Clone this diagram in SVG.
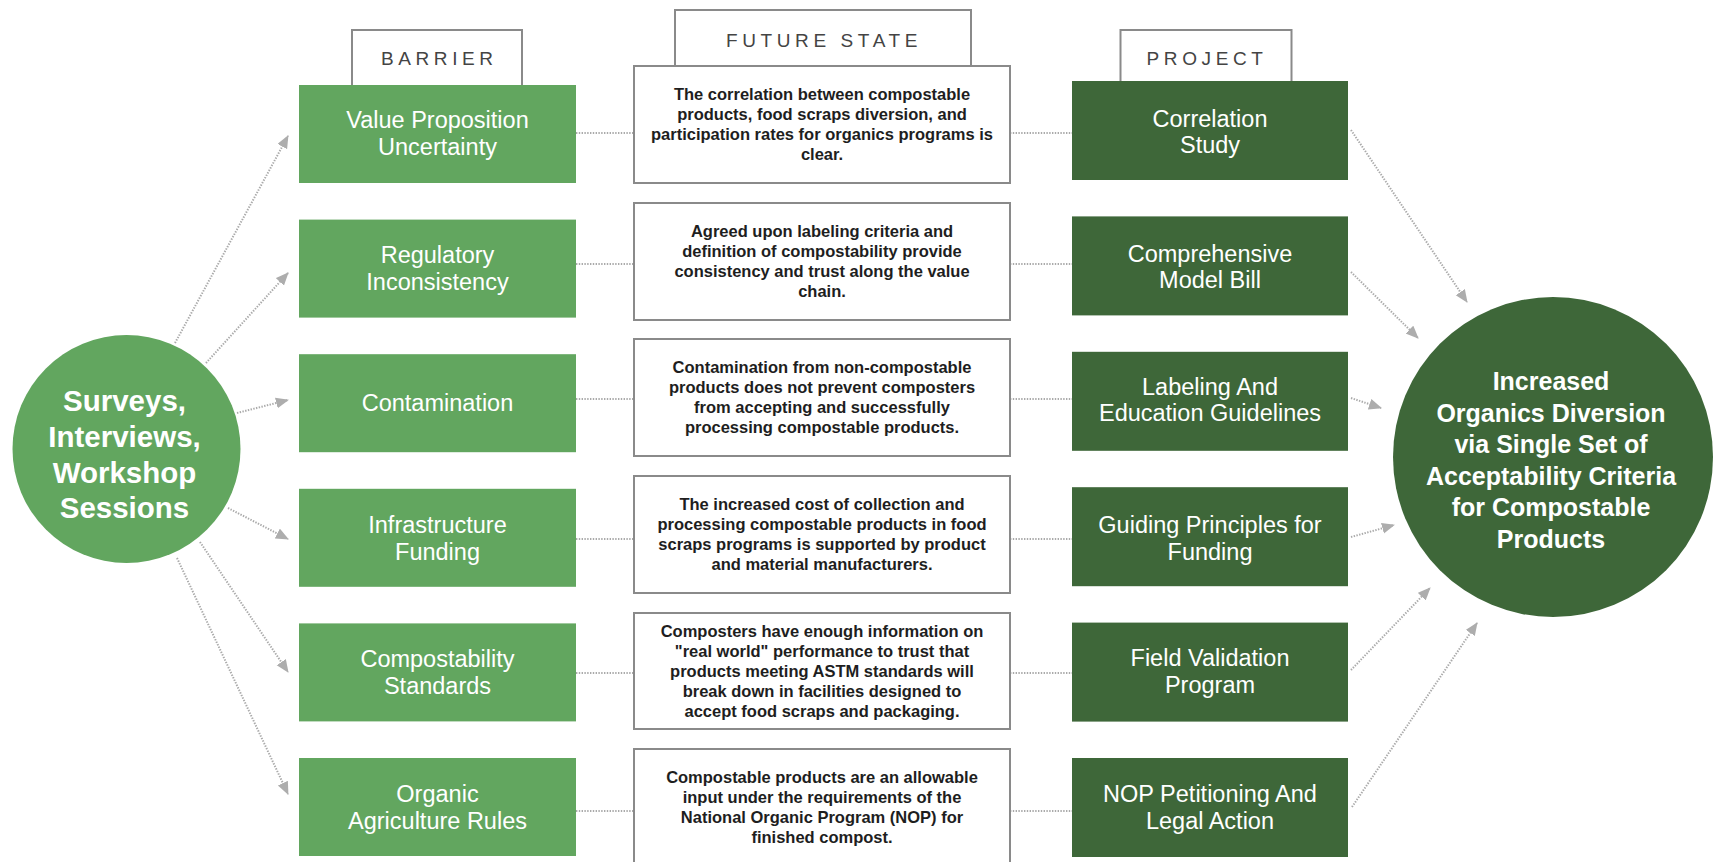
<svg xmlns="http://www.w3.org/2000/svg" width="1717" height="862" viewBox="0 0 1717 862">
<defs>
<marker id="ah" markerUnits="userSpaceOnUse" markerWidth="14" markerHeight="12" refX="12" refY="5.5" orient="auto">
<path d="M0,0 L13,5.5 L0,11 z" fill="#adadad"/>
</marker>
</defs>
<style>
.lbl{fill:#fff;stroke:#8a8a8a;stroke-width:2}
.lblt{font-family:"Liberation Sans",Arial,sans-serif;font-size:19px;letter-spacing:4.6px;fill:#444;text-anchor:middle}
.bar{fill:#62a65f}
.proj{fill:#3e6739}
.bt{font-family:"Liberation Sans",Arial,sans-serif;font-size:23.5px;fill:#fff;text-anchor:middle}
.fs{fill:#fff;stroke:#8a8a8a;stroke-width:2}
.ft{font-family:"Liberation Sans",Arial,sans-serif;font-size:16.5px;font-weight:bold;fill:#1e1e1e;text-anchor:middle}
.ct{font-family:"Liberation Sans",Arial,sans-serif;font-weight:bold;fill:#fff;text-anchor:middle}
.dot{stroke:#aaaaaa;stroke-width:2;stroke-dasharray:1.4 1.4;fill:none}
.arr{stroke:#aaaaaa;stroke-width:2;stroke-dasharray:1.4 1.4;fill:none;marker-end:url(#ah)}
</style>
<rect width="1717" height="862" fill="#fff"/>

<g id="connectors">
<line class="dot" x1="576" y1="133" x2="634" y2="133"/>
<line class="dot" x1="576" y1="264" x2="634" y2="264"/>
<line class="dot" x1="576" y1="399" x2="634" y2="399"/>
<line class="dot" x1="576" y1="539" x2="634" y2="539"/>
<line class="dot" x1="576" y1="673" x2="634" y2="673"/>
<line class="dot" x1="576" y1="811" x2="634" y2="811"/>
<line class="dot" x1="1010" y1="133" x2="1072" y2="133"/>
<line class="dot" x1="1010" y1="264" x2="1072" y2="264"/>
<line class="dot" x1="1010" y1="399" x2="1072" y2="399"/>
<line class="dot" x1="1010" y1="539" x2="1072" y2="539"/>
<line class="dot" x1="1010" y1="673" x2="1072" y2="673"/>
<line class="dot" x1="1010" y1="811" x2="1072" y2="811"/>
<line class="arr" x1="175" y1="343" x2="288" y2="136"/>
<line class="arr" x1="206" y1="363" x2="288" y2="273"/>
<line class="arr" x1="237" y1="413" x2="288" y2="400"/>
<line class="arr" x1="228" y1="508" x2="288" y2="539"/>
<line class="arr" x1="200" y1="542" x2="288" y2="672"/>
<line class="arr" x1="177" y1="558" x2="288" y2="794"/>
<line class="arr" x1="1351" y1="130" x2="1467" y2="302"/>
<line class="arr" x1="1351" y1="272" x2="1418" y2="338"/>
<line class="arr" x1="1351" y1="398" x2="1381" y2="408"/>
<line class="arr" x1="1351" y1="537" x2="1394" y2="525"/>
<line class="arr" x1="1351" y1="670" x2="1430" y2="588"/>
<line class="arr" x1="1352" y1="807" x2="1477" y2="623"/>
</g>

<g id="header-barrier">
<rect class="lbl" x="352" y="30" width="170" height="56"/>
<text class="lblt" x="439.3" y="65">BARRIER</text>
</g>
<g id="header-future">
<rect class="lbl" x="675" y="10" width="296" height="56"/>
<text class="lblt" x="824" y="47">FUTURE STATE</text>
</g>
<g id="header-project">
<rect class="lbl" x="1120.5" y="30" width="171" height="52"/>
<text class="lblt" x="1207" y="65">PROJECT</text>
</g>

<g id="source">
<circle cx="126.5" cy="449" r="114" fill="#62a65f"/>
<text class="ct" font-size="29.5" x="124.5" y="411">Surveys,</text>
<text class="ct" font-size="29.5" x="124.5" y="447">Interviews,</text>
<text class="ct" font-size="29.5" x="124.5" y="483">Workshop</text>
<text class="ct" font-size="29.5" x="124.5" y="518">Sessions</text>
</g>

<g id="barrier-1"><rect class="bar" x="299" y="85" width="277" height="98"/>
<text class="bt" x="437.5" y="128">Value Proposition</text><text class="bt" x="437.5" y="155">Uncertainty</text></g>
<g id="barrier-2"><rect class="bar" x="299" y="219.6" width="277" height="98"/>
<text class="bt" x="437.5" y="263">Regulatory</text><text class="bt" x="437.5" y="290">Inconsistency</text></g>
<g id="barrier-3"><rect class="bar" x="299" y="354.2" width="277" height="98"/>
<text class="bt" x="437.5" y="411">Contamination</text></g>
<g id="barrier-4"><rect class="bar" x="299" y="488.8" width="277" height="98"/>
<text class="bt" x="437.5" y="533">Infrastructure</text><text class="bt" x="437.5" y="560">Funding</text></g>
<g id="barrier-5"><rect class="bar" x="299" y="623.4" width="277" height="98"/>
<text class="bt" x="437.5" y="667">Compostability</text><text class="bt" x="437.5" y="694">Standards</text></g>
<g id="barrier-6"><rect class="bar" x="299" y="758" width="277" height="98"/>
<text class="bt" x="437.5" y="802">Organic</text><text class="bt" x="437.5" y="829">Agriculture Rules</text></g>

<g id="future-1"><rect class="fs" x="634" y="66" width="376" height="117"/>
<text class="ft" x="822" y="100">The correlation between compostable</text>
<text class="ft" x="822" y="120">products, food scraps diversion, and</text>
<text class="ft" x="822" y="140">participation rates for organics programs is</text>
<text class="ft" x="822" y="160">clear.</text></g>
<g id="future-2"><rect class="fs" x="634" y="203" width="376" height="117"/>
<text class="ft" x="822" y="237">Agreed upon labeling criteria and</text>
<text class="ft" x="822" y="257">definition of compostability provide</text>
<text class="ft" x="822" y="277">consistency and trust along the value</text>
<text class="ft" x="822" y="297">chain.</text></g>
<g id="future-3"><rect class="fs" x="634" y="339" width="376" height="117"/>
<text class="ft" x="822" y="373">Contamination from non-compostable</text>
<text class="ft" x="822" y="393">products does not prevent composters</text>
<text class="ft" x="822" y="413">from accepting and successfully</text>
<text class="ft" x="822" y="433">processing compostable products.</text></g>
<g id="future-4"><rect class="fs" x="634" y="476" width="376" height="117"/>
<text class="ft" x="822" y="510">The increased cost of collection and</text>
<text class="ft" x="822" y="530">processing compostable products in food</text>
<text class="ft" x="822" y="550">scraps programs is supported by product</text>
<text class="ft" x="822" y="570">and material manufacturers.</text></g>
<g id="future-5"><rect class="fs" x="634" y="613" width="376" height="116"/>
<text class="ft" x="822" y="637">Composters have enough information on</text>
<text class="ft" x="822" y="657">"real world" performance to trust that</text>
<text class="ft" x="822" y="677">products meeting ASTM standards will</text>
<text class="ft" x="822" y="697">break down in facilities designed to</text>
<text class="ft" x="822" y="717">accept food scraps and packaging.</text></g>
<g id="future-6"><rect class="fs" x="634" y="749" width="376" height="120"/>
<text class="ft" x="822" y="783">Compostable products are an allowable</text>
<text class="ft" x="822" y="803">input under the requirements of the</text>
<text class="ft" x="822" y="823">National Organic Program (NOP) for</text>
<text class="ft" x="822" y="843">finished compost.</text></g>

<g id="project-1"><rect class="proj" x="1072" y="81" width="276" height="99"/>
<text class="bt" x="1210" y="127">Correlation</text><text class="bt" x="1210" y="153">Study</text></g>
<g id="project-2"><rect class="proj" x="1072" y="216.4" width="276" height="99"/>
<text class="bt" x="1210" y="262">Comprehensive</text><text class="bt" x="1210" y="288">Model Bill</text></g>
<g id="project-3"><rect class="proj" x="1072" y="351.8" width="276" height="99"/>
<text class="bt" x="1210" y="395">Labeling And</text><text class="bt" x="1210" y="421">Education Guidelines</text></g>
<g id="project-4"><rect class="proj" x="1072" y="487.2" width="276" height="99"/>
<text class="bt" x="1210" y="533">Guiding Principles for</text><text class="bt" x="1210" y="560">Funding</text></g>
<g id="project-5"><rect class="proj" x="1072" y="622.6" width="276" height="99"/>
<text class="bt" x="1210" y="666">Field Validation</text><text class="bt" x="1210" y="693">Program</text></g>
<g id="project-6"><rect class="proj" x="1072" y="758" width="276" height="99"/>
<text class="bt" x="1210" y="802">NOP Petitioning And</text><text class="bt" x="1210" y="829">Legal Action</text></g>

<g id="outcome">
<circle cx="1553" cy="457" r="160" fill="#3e6739"/>
<text class="ct" font-size="25" x="1551" y="390">Increased</text>
<text class="ct" font-size="25" x="1551" y="421.5">Organics Diversion</text>
<text class="ct" font-size="25" x="1551" y="453">via Single Set of</text>
<text class="ct" font-size="25" x="1551" y="484.5">Acceptability Criteria</text>
<text class="ct" font-size="25" x="1551" y="516">for Compostable</text>
<text class="ct" font-size="25" x="1551" y="547.5">Products</text>
</g>
</svg>
